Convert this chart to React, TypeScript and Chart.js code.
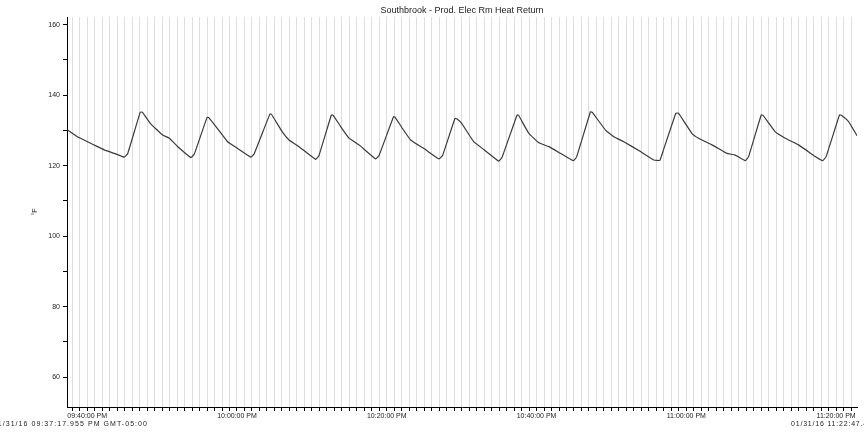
import React, { useEffect, useRef } from "react";
import { Chart, registerables } from "chart.js";

Chart.register(...registerables);

const chartTitle = "Southbrook - Prod. Elec Rm Heat Return";
const yAxisTitle = "°F";
const startLabel = "01/31/16 09:37:17.955 PM GMT-05:00";
const endLabel = "01/31/16 11:22:47.455 PM GMT-05:00";

// minutes after 9:00 PM
const timeMin = 37.3;
const timeMax = 142.79;
const times = [
  37.3, 38.7, 40.04, 41.38, 42.27, 43.61, 44.94, 45.4, 47.08, 47.35, 48.42, 50.06, 50.96, 52.29,
  53.85, 54.3, 56.0, 56.2, 57.37, 58.74, 60.08, 61.87, 62.3, 64.4, 64.6, 66.05, 66.95, 68.28,
  70.5, 70.95, 72.6, 72.85, 73.84, 74.96, 76.3, 78.52, 78.97, 80.9, 81.1, 82.08, 83.19, 85.2, 86.99,
  87.45, 89.1, 89.35, 90.0, 91.61, 92.94, 94.95, 95.4, 97.4, 97.6, 98.96, 100.3, 101.63, 103.19, 104.89,
  105.35, 107.2, 107.45, 109.21, 110.32, 111.65, 113.88, 115.66, 116.46, 116.95, 118.6, 118.95,
  120.73, 121.63, 123.41, 124.3, 125.41, 126.53, 127.87, 128.3, 130.0, 130.25, 131.88, 133.21,
  134.99, 137.22, 138.2, 138.65, 140.45, 140.7, 141.67, 142.79,
];
const temps = [
  130.2, 128.2, 126.8, 125.4, 124.5, 123.5, 122.4, 123.4, 135.2, 135.2, 132.0, 128.7, 127.8, 125.0,
  122.3, 123.3, 133.7, 133.7, 130.6, 126.8, 124.9, 122.4, 123.4, 134.7, 134.6, 129.6, 127.3, 125.4,
  121.8, 122.9, 134.4, 134.3, 131.1, 127.8, 125.9, 121.9, 122.9, 133.9, 133.8, 130.6, 127.3, 124.5, 121.9,
  122.9, 133.4, 133.3, 132.0, 126.8, 124.6, 121.3, 122.4, 134.4, 134.3, 129.2, 126.5, 125.4, 123.5, 121.4,
  122.5, 135.3, 135.1, 130.1, 128.2, 126.8, 124.0, 121.6, 121.5, 124.5, 134.9, 134.9,
  129.2, 127.8, 125.9, 124.9, 123.5, 123.0, 121.4, 122.5, 134.4, 134.3, 129.6, 127.8,
  125.9, 122.6, 121.4, 122.5, 134.4, 134.3, 132.5, 128.5,
];
const yTicks = [60, 70, 80, 90, 100, 110, 120, 130, 140, 150, 160];
const yMin = 51.5;
const yMax = 162.2;

const FONT = "'Liberation Sans', Arial, sans-serif";

function fmtTime(m: number): string {
  const h = 9 + Math.floor(m / 60);
  const mm = Math.round(m % 60);
  const hh = h > 12 ? h - 12 : h;
  return `${String(hh).padStart(2, "0")}:${String(mm).padStart(2, "0")}:00 PM`;
}

const edgeLabels = {
  id: "edgeLabels",
  afterDraw(chart: any) {
    const { ctx, chartArea } = chart;
    ctx.save();
    ctx.font = `7px ${FONT}`;
    (ctx as any).letterSpacing = "1.05px";
    ctx.fillStyle = "#222";
    ctx.textBaseline = "middle";
    ctx.textAlign = "right";
    ctx.fillText(startLabel, chartArea.left + 81, 424);
    (ctx as any).letterSpacing = "0.8px";
    ctx.textAlign = "left";
    ctx.fillText(endLabel, chartArea.right - 66, 424);
    ctx.restore();
  },
};

export default function App() {
  const ref = useRef<HTMLCanvasElement>(null);
  useEffect(() => {
    if (!ref.current) return;
    const chart = new Chart(ref.current, {
      type: "line",
      data: {
        datasets: [
          {
            data: times.map((t, i) => ({ x: t, y: temps[i] })),
            borderColor: "#3a3a3a",
            borderWidth: 1.2,
            pointRadius: 0,
            tension: 0.1,
            fill: false,
          },
        ],
      },
      options: {
        animation: false,
        responsive: false,
        layout: { padding: { left: 0, right: 7, top: 0, bottom: 0 } },
        plugins: {
          legend: { display: false },
          tooltip: { enabled: false },
          title: {
            display: true,
            text: chartTitle,
            fullSize: false,
            color: "#222",
            font: { family: FONT, size: 9, weight: "normal" },
            padding: { top: 5, bottom: 1.2 },
          },
        },
        scales: {
          x: {
            type: "linear",
            min: timeMin,
            max: timeMax,
            afterBuildTicks: (s: any) => {
              const t = [];
              for (let m = 38; m <= 142; m++) t.push({ value: m });
              s.ticks = t;
            },
            afterFit: (s: any) => {
              s.height = 25;
            },
            grid: {
              display: true,
              drawOnChartArea: true,
              drawTicks: true,
              tickLength: 4,
              color: "#dedede",
              tickColor: "#000",
              lineWidth: 1,
            },
            border: { display: true, color: "#000", width: 1 },
            ticks: {
              autoSkip: false,
              maxRotation: 0,
              minRotation: 0,
              padding: 1,
              color: "#222",
              font: { family: FONT, size: 7 },
              callback: (v: any) => (Number(v) % 20 === 0 ? fmtTime(Number(v)) : ""),
            },
          },
          y: {
            type: "linear",
            min: yMin,
            max: yMax,
            afterBuildTicks: (s: any) => {
              s.ticks = yTicks.map((v) => ({ value: v }));
            },
            afterFit: (s: any) => {
              s.width = 67;
            },
            grid: {
              display: true,
              drawOnChartArea: false,
              drawTicks: true,
              tickLength: 4,
              tickColor: "#000",
            },
            border: { display: true, color: "#000", width: 1 },
            title: {
              display: true,
              text: yAxisTitle,
              color: "#222",
              font: { family: FONT, size: 7 },
              padding: { top: 31, bottom: 0 },
            },
            ticks: {
              autoSkip: false,
              padding: 3,
              color: "#222",
              font: { family: FONT, size: 7 },
              callback: (v: any) => (Number(v) % 20 === 0 ? String(v) : ""),
            },
          },
        },
      },
      plugins: [edgeLabels],
    } as any);
    return () => chart.destroy();
  }, []);
  return (
    <div style={{ position: "absolute", left: 0, top: 0, width: 864, height: 432, background: "#fff" }}>
      <canvas ref={ref} width={864} height={432} />
    </div>
  );
}
